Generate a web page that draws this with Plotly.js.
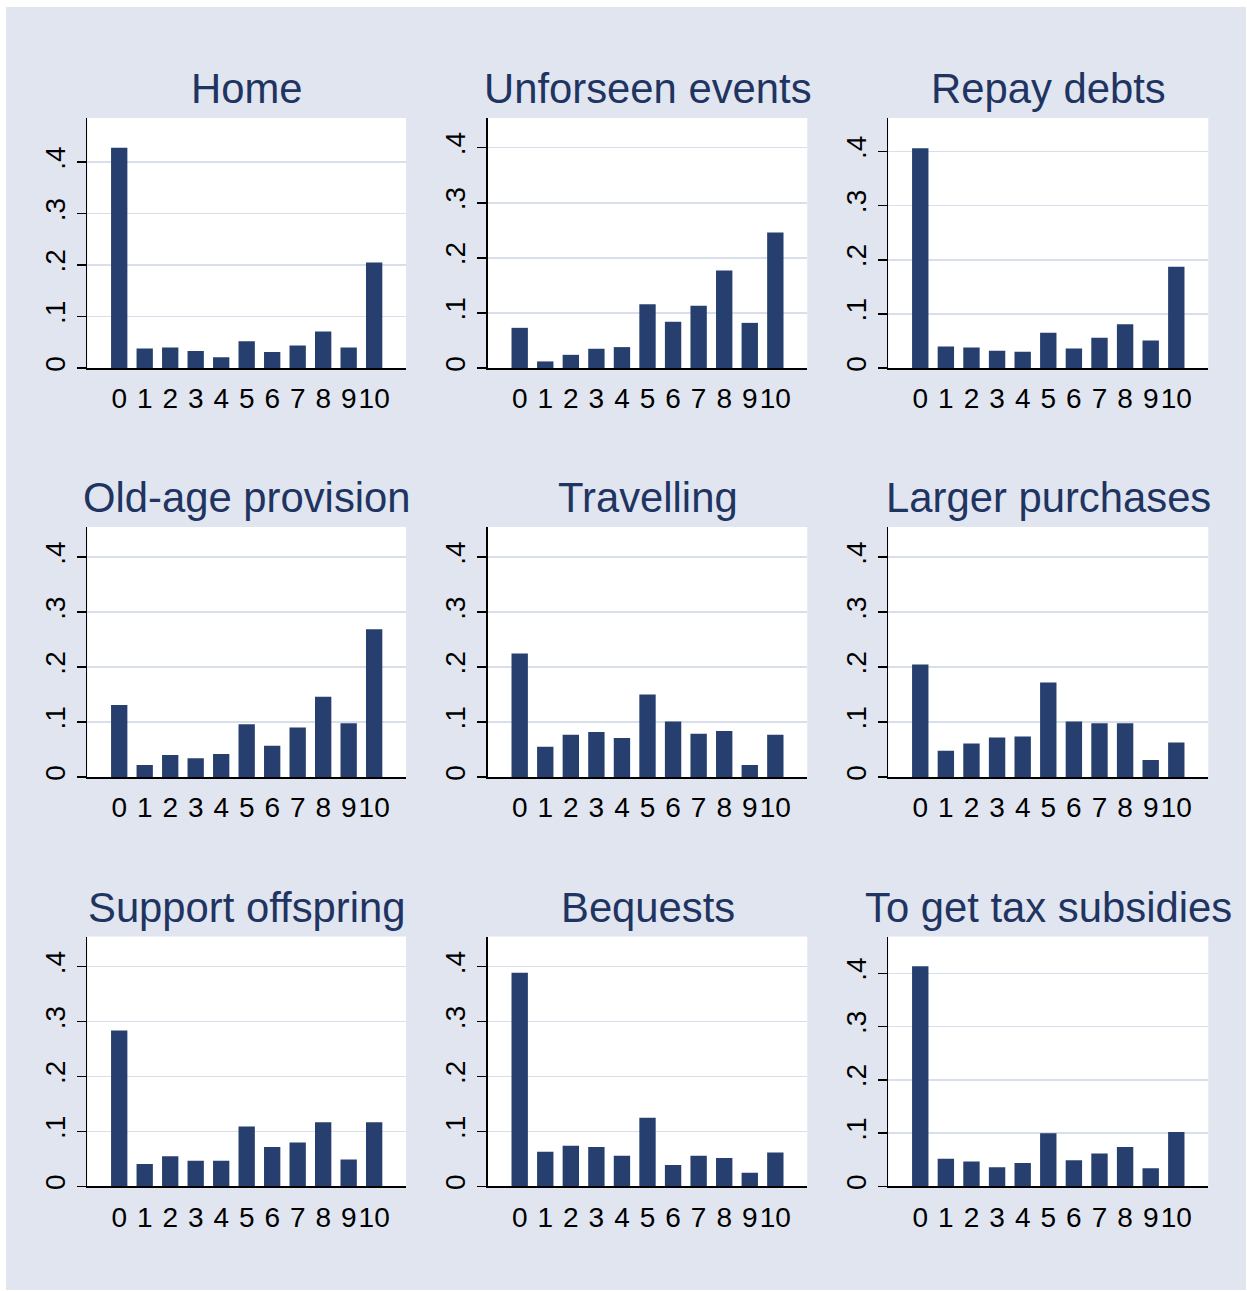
<!DOCTYPE html>
<html>
<head>
<meta charset="utf-8">
<script src="https://cdn.plot.ly/plotly-3.0.1.min.js"></script>
<style>
  html, body { margin: 0; padding: 0; background: #ffffff; }
  #chart { position: absolute; left: 6px; top: 7px; width: 1240px; height: 1283px; }
</style>
</head>
<body>
<div id="chart"></div>
<script>
// ---- data ----
const categories = [0, 1, 2, 3, 4, 5, 6, 7, 8, 9, 10];
const titles = ["Home", "Unforseen events", "Repay debts",
                "Old-age provision", "Travelling", "Larger purchases",
                "Support offspring", "Bequests", "To get tax subsidies"];
const home        = [0.428, 0.038, 0.040, 0.033, 0.021, 0.052, 0.031, 0.044, 0.071, 0.040, 0.205];
const unforseen   = [0.073, 0.012, 0.024, 0.035, 0.038, 0.116, 0.084, 0.113, 0.177, 0.082, 0.246];
const repayDebts  = [0.406, 0.040, 0.038, 0.032, 0.030, 0.065, 0.036, 0.056, 0.081, 0.051, 0.187];
const oldAge      = [0.131, 0.022, 0.040, 0.034, 0.042, 0.096, 0.057, 0.090, 0.146, 0.098, 0.269];
const travelling  = [0.225, 0.055, 0.077, 0.082, 0.071, 0.150, 0.101, 0.079, 0.084, 0.022, 0.077];
const larger      = [0.205, 0.048, 0.061, 0.072, 0.074, 0.172, 0.101, 0.098, 0.098, 0.031, 0.063];
const offspring   = [0.284, 0.041, 0.055, 0.047, 0.047, 0.109, 0.072, 0.080, 0.117, 0.049, 0.117];
const bequests    = [0.389, 0.063, 0.074, 0.072, 0.056, 0.125, 0.039, 0.056, 0.052, 0.025, 0.062];
const taxSubs     = [0.413, 0.052, 0.047, 0.036, 0.044, 0.100, 0.049, 0.062, 0.074, 0.034, 0.102];
const yTickVals   = [0, 0.1, 0.2, 0.3, 0.4];
const yTickText   = ["0", ".1", ".2", ".3", ".4"];
const yMax        = [0.486, 0.454, 0.462, 0.455, 0.455, 0.455, 0.455, 0.455, 0.469];

const series = [home, unforseen, repayDebts, oldAge, travelling, larger, offspring, bequests, taxSubs];

// ---- layout geometry ----
const colDomains = [[0.0656, 0.3226], [0.3885, 0.6462], [0.7115, 0.9696]];
const rowDomains = [[0.7186, 0.9135], [0.3998, 0.5947], [0.0807, 0.2755]];

const barColor = "#273f6e";
const titleColor = "#1f3461";
const gridColor = "#d8dfeb";
const fontFam = "Liberation Sans, Arial, sans-serif";

const traces = [];
const layout = {
  width: 1240, height: 1283,
  margin: {l: 0, r: 0, t: 0, b: 0},
  paper_bgcolor: "#e0e5f0",
  plot_bgcolor: "#ffffff",
  showlegend: false,
  font: {family: fontFam, color: "#000000"},
  annotations: []
};

series.forEach((vals, i) => {
  const r = Math.floor(i / 3), c = i % 3;
  const n = i + 1;
  const xa = "x" + (n === 1 ? "" : n), ya = "y" + (n === 1 ? "" : n);
  traces.push({
    type: "bar", x: categories, y: vals,
    xaxis: xa, yaxis: ya,
    width: 0.64,
    marker: {color: barColor, line: {width: 0}},
    hoverinfo: "x+y"
  });
  const xKey = "xaxis" + (n === 1 ? "" : n), yKey = "yaxis" + (n === 1 ? "" : n);
  layout[xKey] = {
    domain: colDomains[c], anchor: ya,
    range: [-1.25, 11.25],
    tickmode: "array", tickvals: categories, ticktext: categories.map(String),
    ticks: "", showgrid: false, zeroline: false,
    tickangle: 0,
    showline: true, linecolor: "#000000", linewidth: 1.5,
    tickfont: {size: 28, family: fontFam, color: "#000000"},
    ticklabelstandoff: 5,
    fixedrange: true
  };
  layout[yKey] = {
    domain: rowDomains[r], anchor: xa,
    range: [0, yMax[i]],
    tickmode: "array", tickvals: yTickVals, ticktext: yTickText,
    ticks: "outside", ticklen: 9, tickwidth: 1.5, tickcolor: "#000000",
    tickangle: -90,
    showgrid: true, gridcolor: gridColor, gridwidth: 1.5,
    zeroline: false,
    showline: true, linecolor: "#000000", linewidth: 1.5,
    tickfont: {size: 28, family: fontFam, color: "#000000"},
    ticklabelstandoff: 1,
    fixedrange: true
  };
  layout.annotations.push({
    text: titles[i],
    xref: "paper", yref: "paper",
    x: (colDomains[c][0] + colDomains[c][1]) / 2,
    y: rowDomains[r][1],
    xanchor: "center", yanchor: "bottom",
    yshift: 4,
    showarrow: false,
    font: {size: 41.8, family: fontFam, color: titleColor}
  });
});

Plotly.newPlot("chart", traces, layout, {displayModeBar: false, staticPlot: true});
</script>
</body>
</html>
